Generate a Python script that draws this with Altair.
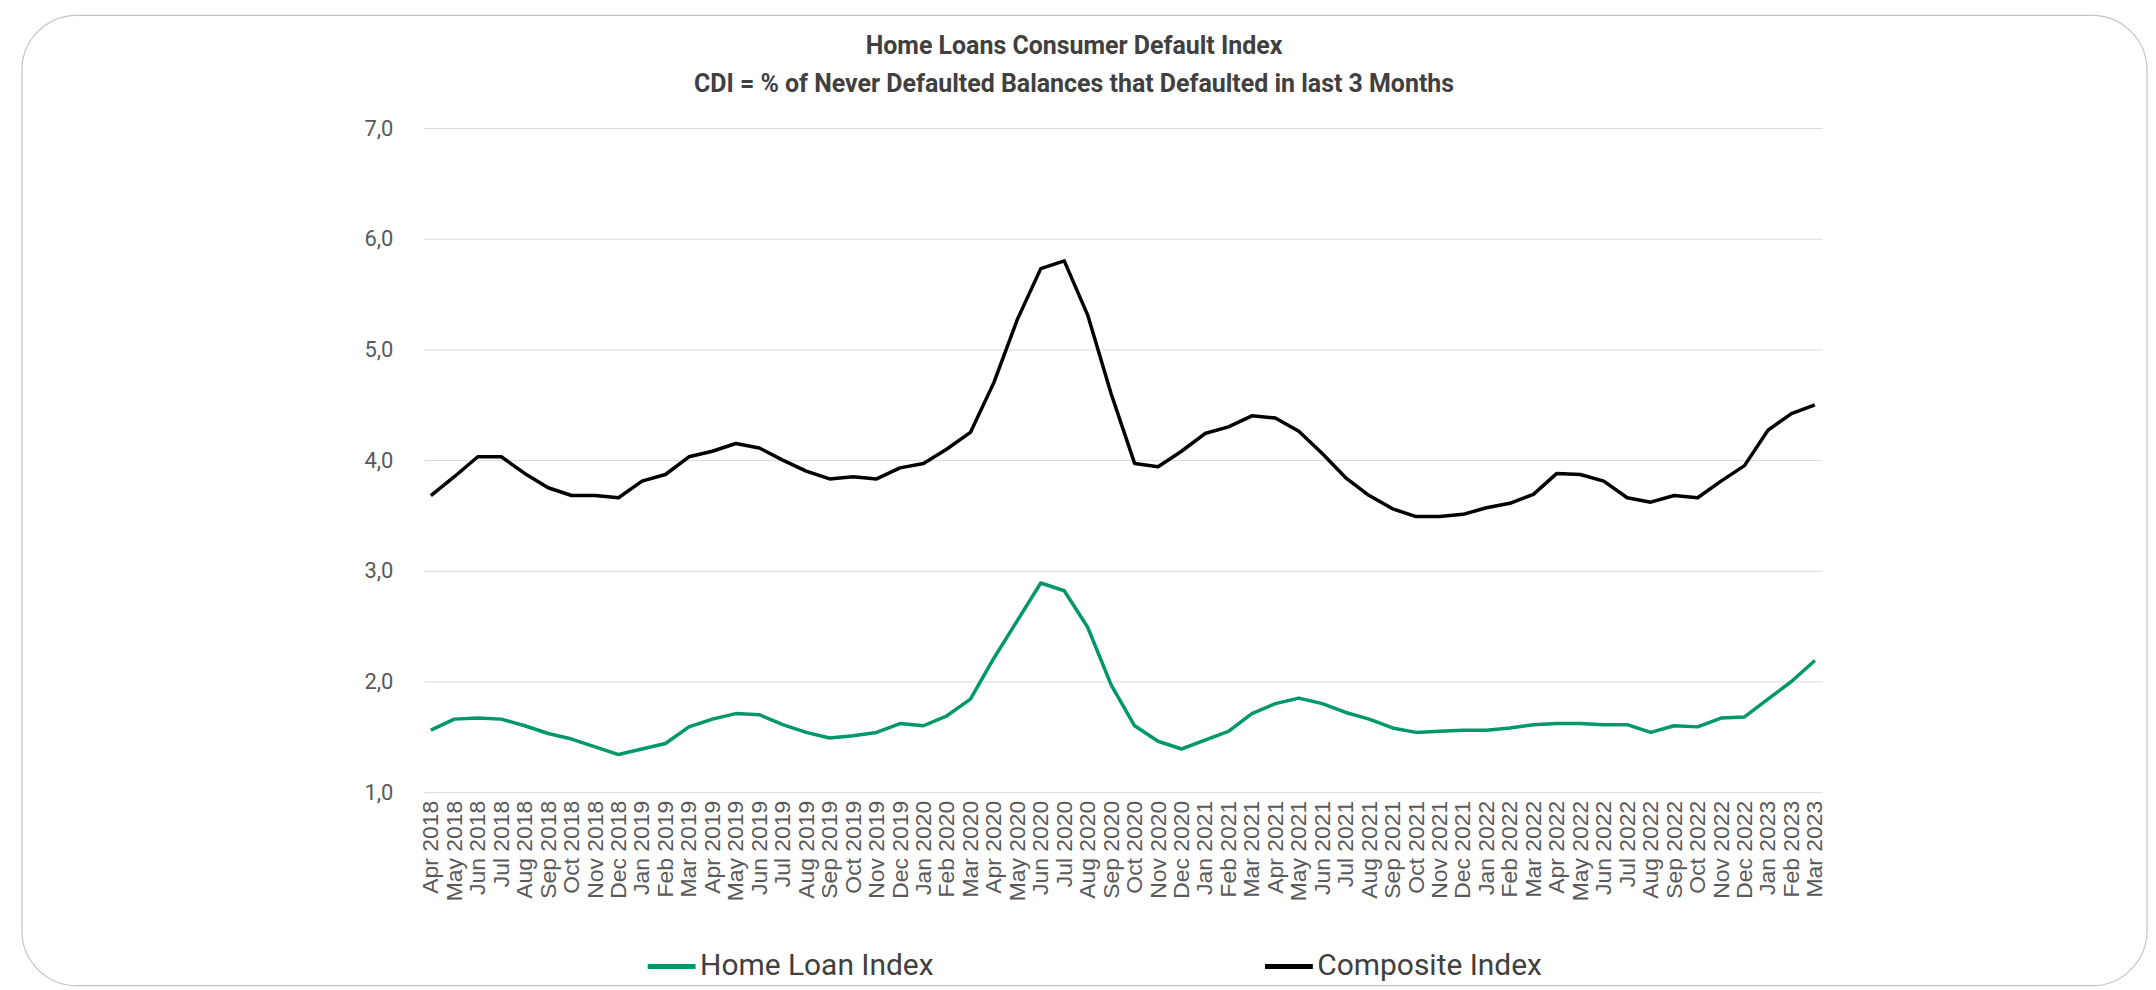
import altair as alt
import pandas as pd

months = [
    "Apr 2018", "May 2018", "Jun 2018", "Jul 2018", "Aug 2018", "Sep 2018",
    "Oct 2018", "Nov 2018", "Dec 2018", "Jan 2019", "Feb 2019", "Mar 2019",
    "Apr 2019", "May 2019", "Jun 2019", "Jul 2019", "Aug 2019", "Sep 2019",
    "Oct 2019", "Nov 2019", "Dec 2019", "Jan 2020", "Feb 2020", "Mar 2020",
    "Apr 2020", "May 2020", "Jun 2020", "Jul 2020", "Aug 2020", "Sep 2020",
    "Oct 2020", "Nov 2020", "Dec 2020", "Jan 2021", "Feb 2021", "Mar 2021",
    "Apr 2021", "May 2021", "Jun 2021", "Jul 2021", "Aug 2021", "Sep 2021",
    "Oct 2021", "Nov 2021", "Dec 2021", "Jan 2022", "Feb 2022", "Mar 2022",
    "Apr 2022", "May 2022", "Jun 2022", "Jul 2022", "Aug 2022", "Sep 2022",
    "Oct 2022", "Nov 2022", "Dec 2022", "Jan 2023", "Feb 2023", "Mar 2023",
]

home_loan_index = [
    1.56, 1.66, 1.67, 1.66, 1.60, 1.53, 1.48, 1.41, 1.34, 1.39, 1.44, 1.59,
    1.66, 1.71, 1.70, 1.61, 1.54, 1.49, 1.51, 1.54, 1.62, 1.60, 1.69, 1.84,
    2.21, 2.55, 2.89, 2.82, 2.49, 1.97, 1.60, 1.46, 1.39, 1.47, 1.55, 1.71,
    1.80, 1.85, 1.80, 1.72, 1.66, 1.58, 1.54, 1.55, 1.56, 1.56, 1.58, 1.61,
    1.62, 1.62, 1.61, 1.61, 1.54, 1.60, 1.59, 1.67, 1.68, 1.84, 2.00, 2.19,
]

composite_index = [
    3.68, 3.85, 4.03, 4.03, 3.88, 3.75, 3.68, 3.68, 3.66, 3.81, 3.87, 4.03,
    4.08, 4.15, 4.11, 4.00, 3.90, 3.83, 3.85, 3.83, 3.93, 3.97, 4.10, 4.25,
    4.70, 5.27, 5.73, 5.80, 5.31, 4.60, 3.97, 3.94, 4.08, 4.24, 4.30, 4.40,
    4.38, 4.26, 4.06, 3.84, 3.68, 3.56, 3.49, 3.49, 3.51, 3.57, 3.61, 3.69,
    3.88, 3.87, 3.81, 3.66, 3.62, 3.68, 3.66, 3.81, 3.95, 4.27, 4.42, 4.50,
]

series_names = ["Home Loan Index", "Composite Index"]
series_colors = ["#00976A", "#000000"]
y_ticks = [1, 2, 3, 4, 5, 6, 7]
title_lines = [
    "Home Loans Consumer Default Index",
    "CDI = % of Never Defaulted Balances that Defaulted in last 3 Months",
]

rows = []
for name, vals in zip(series_names, [home_loan_index, composite_index]):
    for m, v in zip(months, vals):
        rows.append({"month": m, "series": name, "value": v})
df = pd.DataFrame(rows)

W, H = 1402, 666

# decorative rounded outer frame of the card
frame = alt.Chart(alt.Data(values=[{"k": 1}])).mark_rect(
    fill="transparent", stroke="#c4c4c4", strokeWidth=1.2, cornerRadius=55
).encode(
    x=alt.value(-403), x2=alt.value(1728), y=alt.value(-113), y2=alt.value(860)
)

lines = alt.Chart(df).mark_line(strokeWidth=3.5, strokeJoin="round").encode(
    x=alt.X(
        "month:O",
        sort=months,
        scale=alt.Scale(padding=0.3),
        axis=alt.Axis(
            title=None,
            labelAngle=270,
            labelFont="Liberation Sans",
            labelFontSize=23,
            labelColor="#595959",
            labelPadding=8,
            ticks=False,
            domain=False,
            grid=False,
            labelOverlap=False,
        ),
    ),
    y=alt.Y(
        "value:Q",
        scale=alt.Scale(domain=[1, 7], nice=False, zero=False),
        axis=alt.Axis(
            title=None,
            values=y_ticks,
            labelExpr="replace(format(datum.value, '.1f'), '.', ',')",
            labelFont="Roboto",
            labelFontSize=22,
            labelColor="#595959",
            labelPadding=31,
            ticks=False,
            domain=False,
            gridColor="#d9d9d9",
            gridWidth=1,
        ),
    ),
    color=alt.Color(
        "series:N",
        scale=alt.Scale(domain=series_names, range=series_colors),
        legend=alt.Legend(
            title=None,
            orient="none",
            legendX=222,
            legendY=814,
            direction="horizontal",
            symbolType="stroke",
            symbolStrokeWidth=5,
            symbolSize=2304,
            labelFont="Roboto",
            labelFontSize=30,
            labelColor="#404040",
            labelOffset=2,
            columnPadding=321,
            labelLimit=500,
        ),
    ),
)

chart = alt.layer(frame, lines).properties(
    width=W,
    height=H,
    padding={"left": 13, "top": 5, "right": 0, "bottom": 0},
    background="white",
    title=alt.Title(
        title_lines,
        font="Roboto",
        fontSize=25,
        fontWeight="bold",
        color="#404040",
        anchor="middle",
        frame="group",
        dx=-49,
        offset=-82,
        baseline="top",
        lineHeight=38,
    ),
).configure_view(stroke="transparent")

chart.save("out.html", embed_options={"renderer": "svg", "actions": False})
